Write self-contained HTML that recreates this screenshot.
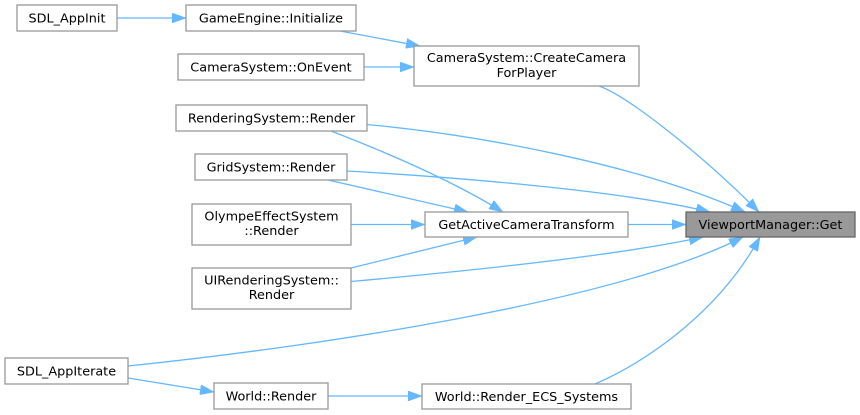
<!DOCTYPE html>
<html>
<head>
<meta charset="utf-8">
<style>
html,body{margin:0;padding:0;background:#fff;}
svg{display:block;}
text{font-family:"DejaVu Sans","Liberation Sans",sans-serif;font-size:12.8px;fill:#000;}
.n{fill:#fff;stroke:#999;stroke-width:1.3;}
.h{fill:#999;stroke:#666;stroke-width:1.3;}
.e{fill:none;stroke:#63b8ff;stroke-width:1.3;}
</style>
</head>
<body>
<svg width="860" height="415" viewBox="0 0 860 415" xmlns="http://www.w3.org/2000/svg">
<defs>
<marker id="a" viewBox="0 0 10 7" markerWidth="14" markerHeight="10" refX="10" refY="3.5" orient="auto" markerUnits="userSpaceOnUse" preserveAspectRatio="none">
<path d="M0,0 L10,3.5 L0,7 z" fill="#63b8ff" stroke="#63b8ff" stroke-width="0.4"/>
</marker>
</defs>

<!-- edges -->
<path class="e" marker-end="url(#a)" d="M117,18 L186,18"/>
<path class="e" marker-end="url(#a)" d="M340,31 L420,46"/>
<path class="e" marker-end="url(#a)" d="M364,67 L414,67"/>
<path class="e" marker-end="url(#a)" d="M331,131 Q440,173 503,212"/>
<path class="e" marker-end="url(#a)" d="M328,180 L468,212"/>
<path class="e" marker-end="url(#a)" d="M351,224.5 L425,224.5"/>
<path class="e" marker-end="url(#a)" d="M351,268 L477,237"/>
<path class="e" marker-end="url(#a)" d="M628,224.5 L686,224.5"/>
<path class="e" marker-end="url(#a)" d="M599,86 C625,95 695,148 759,212"/>
<path class="e" marker-end="url(#a)" d="M367,124.5 C480,135 640,165 745,212"/>
<path class="e" marker-end="url(#a)" d="M347,171 C450,177 620,190 710,212"/>
<path class="e" marker-end="url(#a)" d="M351,281.5 C480,270 620,255 703,237"/>
<path class="e" marker-end="url(#a)" d="M128,366 C330,345 620,300 743,237"/>
<path class="e" marker-end="url(#a)" d="M595,384 C650,360 720,310 760,237"/>
<path class="e" marker-end="url(#a)" d="M128,378 L214,392"/>
<path class="e" marker-end="url(#a)" d="M328,396 L422,396"/>

<!-- nodes -->
<rect class="n" x="17" y="5" width="100" height="26"/>
<text x="67" y="22.5" text-anchor="middle">SDL_AppInit</text>

<rect class="n" x="186" y="5" width="170" height="26"/>
<text x="271" y="22.5" text-anchor="middle">GameEngine::Initialize</text>

<rect class="n" x="178" y="54" width="186" height="26"/>
<text x="271" y="71.5" text-anchor="middle">CameraSystem::OnEvent</text>

<rect class="n" x="414" y="46" width="225" height="40"/>
<text x="526.5" y="62" text-anchor="middle">CameraSystem::CreateCamera</text>
<text x="526.5" y="77" text-anchor="middle">ForPlayer</text>

<rect class="n" x="176" y="105" width="191" height="26"/>
<text x="271.5" y="122.5" text-anchor="middle">RenderingSystem::Render</text>

<rect class="n" x="195" y="154" width="152" height="26"/>
<text x="271" y="171.5" text-anchor="middle">GridSystem::Render</text>

<rect class="n" x="192" y="204" width="159" height="41"/>
<text x="271.5" y="220.5" text-anchor="middle">OlympeEffectSystem</text>
<text x="271.5" y="235" text-anchor="middle">::Render</text>

<rect class="n" x="192" y="268" width="159" height="41"/>
<text x="271.5" y="284.5" text-anchor="middle">UIRenderingSystem::</text>
<text x="271.5" y="299" text-anchor="middle">Render</text>

<rect class="n" x="5" y="358" width="123" height="26"/>
<text x="66.5" y="375.5" text-anchor="middle">SDL_AppIterate</text>

<rect class="n" x="425" y="212" width="203" height="25"/>
<text x="526.5" y="229" text-anchor="middle">GetActiveCameraTransform</text>

<rect class="h" x="686" y="212" width="169" height="25"/>
<text x="770.5" y="229" text-anchor="middle">ViewportManager::Get</text>

<rect class="n" x="214" y="383" width="114" height="26"/>
<text x="271" y="400.5" text-anchor="middle">World::Render</text>

<rect class="n" x="422" y="384" width="209" height="25"/>
<text x="526.5" y="401" text-anchor="middle">World::Render_ECS_Systems</text>
</svg>
</body>
</html>
